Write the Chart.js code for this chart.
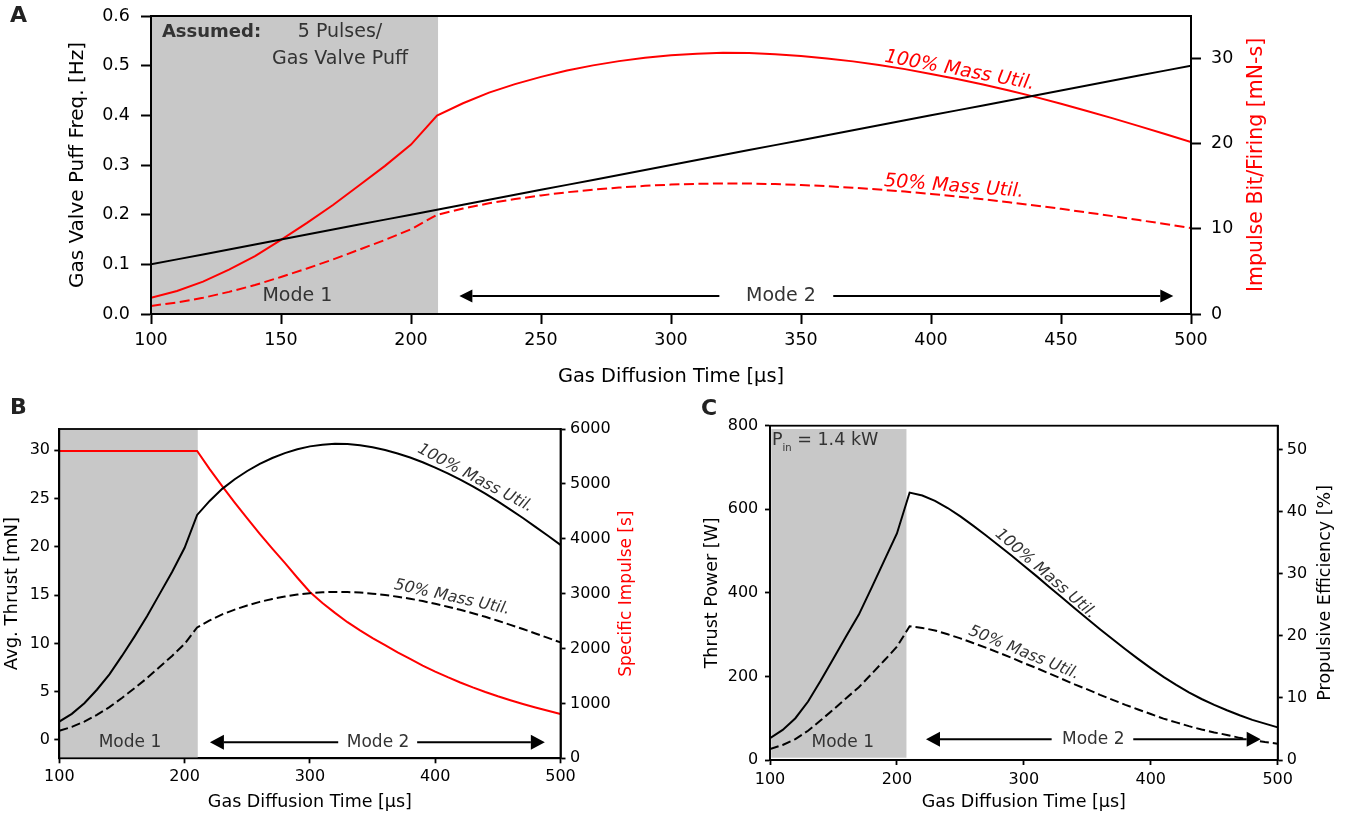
<!DOCTYPE html>
<html>
<head>
<meta charset="utf-8">
<script src="https://cdn.jsdelivr.net/npm/chart.js@4.4.1/dist/chart.umd.min.js"></script>
<style>
  body { margin: 0; background: #fff; }
  #page { position: relative; width: 1361px; height: 821px; overflow: hidden; background: #fff; }
  canvas { position: absolute; }
  .panel { position: absolute; font: bold 22px "DejaVu Sans"; line-height: 22px; color: #222; }
</style>
</head>
<body>
<div id="page">
  <canvas id="chartA" width="1361" height="390" style="left:0;top:0"></canvas>
  <canvas id="chartB" width="680" height="426" style="left:0;top:395px"></canvas>
  <canvas id="chartC" width="681" height="426" style="left:680px;top:395px"></canvas>
  <div class="panel" style="left:10px;top:4px">A</div>
  <div class="panel" style="left:10px;top:396px">B</div>
  <div class="panel" style="left:701px;top:397px">C</div>
</div>
<script>
// tempo de difusão do gás [µs] - eixo x comum
var diffTime = [100, 110, 120, 130, 140, 150, 160, 170, 180, 190, 200, 210, 220, 230, 240, 250, 260, 270, 280, 290, 300,
                310, 320, 330, 340, 350, 360, 370, 380, 390, 400, 410, 420, 430, 440, 450, 460, 470, 480, 490, 500];

// painel A
var puffFreq = [0.10, 0.11, 0.12, 0.13, 0.14, 0.15, 0.16, 0.17, 0.18, 0.19, 0.20, 0.21, 0.22, 0.23, 0.24, 0.25, 0.26, 0.27, 0.28, 0.29, 0.30,
                0.31, 0.32, 0.33, 0.34, 0.35, 0.36, 0.37, 0.38, 0.39, 0.40, 0.41, 0.42, 0.43, 0.44, 0.45, 0.46, 0.47, 0.48, 0.49, 0.50];
var impulse100 = [1.9, 2.7, 3.8, 5.2, 6.8, 8.7, 10.7, 12.8, 15.1, 17.4, 19.9, 23.3, 24.75, 26.0, 27.0, 27.85, 28.6, 29.2, 29.7, 30.1, 30.4,
                  30.58, 30.67, 30.65, 30.52, 30.3, 30.02, 29.67, 29.25, 28.76, 28.2, 27.6, 26.95, 26.25, 25.5, 24.7, 23.85, 22.98, 22.07, 21.14, 20.2];
var impulse50 = [0.95, 1.35, 1.9, 2.6, 3.4, 4.35, 5.35, 6.4, 7.55, 8.7, 9.95, 11.65, 12.38, 13.0, 13.5, 13.93, 14.3, 14.6, 14.85, 15.05, 15.2,
                 15.29, 15.33, 15.32, 15.26, 15.15, 15.01, 14.83, 14.62, 14.38, 14.1, 13.8, 13.48, 13.12, 12.75, 12.35, 11.92, 11.49, 11.03, 10.57, 10.1];

// painel B
var thrust100 = [1.9, 2.7, 3.8, 5.2, 6.8, 8.7, 10.7, 12.8, 15.1, 17.4, 19.9, 23.3, 24.75, 26.0, 27.0, 27.85, 28.6, 29.2, 29.7, 30.1, 30.4,
                 30.58, 30.67, 30.65, 30.52, 30.3, 30.02, 29.67, 29.25, 28.76, 28.2, 27.6, 26.95, 26.25, 25.5, 24.7, 23.85, 22.98, 22.07, 21.14, 20.2];
var thrust50 = [0.95, 1.35, 1.9, 2.6, 3.4, 4.35, 5.35, 6.4, 7.55, 8.7, 9.95, 11.65, 12.38, 13.0, 13.5, 13.93, 14.3, 14.6, 14.85, 15.05, 15.2,
                15.29, 15.33, 15.32, 15.26, 15.15, 15.01, 14.83, 14.62, 14.38, 14.1, 13.8, 13.48, 13.12, 12.75, 12.35, 11.92, 11.49, 11.03, 10.57, 10.1];
var specImpulse = [5600, 5600, 5600, 5600, 5600, 5600, 5600, 5600, 5600, 5600, 5600, 5600, 5270, 4960, 4660, 4370, 4090, 3820, 3560, 3290, 3030,
                   2830, 2650, 2480, 2330, 2190, 2060, 1930, 1810, 1690, 1580, 1478, 1382, 1292, 1208, 1130, 1058, 990, 926, 866, 806];

// painel C
var power100 = [52, 72, 100, 140, 190, 243, 296, 348, 412, 477, 542, 640, 633, 620, 603, 583, 561, 538, 514, 490, 465,
                440, 414, 389, 363, 338, 313, 289, 265, 242, 220, 199, 180, 162, 146, 132, 119, 107, 96, 87, 78];
var power50 = [26, 36, 50, 70, 95, 121, 148, 174, 206, 238, 271, 320, 316, 310, 301, 291, 280, 269, 257, 245, 232,
               220, 207, 194, 181, 169, 156, 144, 132, 121, 110, 99, 90, 81, 73, 66, 60, 53, 48, 43, 39];

// marcas dos eixos
var ticksAx = [100, 150, 200, 250, 300, 350, 400, 450, 500];
var ticksAy = [0, 0.1, 0.2, 0.3, 0.4, 0.5, 0.6];
var ticksAy1 = [0, 10, 20, 30];
var ticksBCx = [100, 200, 300, 400, 500];
var ticksBy = [0, 5, 10, 15, 20, 25, 30];
var ticksBy1 = [0, 1000, 2000, 3000, 4000, 5000, 6000];
var ticksCy = [0, 200, 400, 600, 800];
var ticksCy1 = [0, 10, 20, 30, 40, 50];

Chart.defaults.font.family = '"DejaVu Sans"';
Chart.defaults.color = '#000';

function pts(ys) {
    return diffTime.map(function (t, i) { return { x: t, y: ys[i] }; });
}

function line(values, color, axisId, dash) {
    return {
        data: pts(values),
        borderColor: color,
        borderWidth: 2,
        borderDash: dash || [],
        yAxisID: axisId,
        pointRadius: 0,
        tension: 0,
        fill: false
    };
}

function scaleCfg(o) {
    return {
        type: 'linear',
        position: o.pos,
        min: o.min,
        max: o.max,
        afterBuildTicks: function (s) { s.ticks = o.ticks.map(function (v) { return { value: v }; }); },
        afterFit: function (s) {
            if (o.pos === 'bottom') s.height = o.size; else s.width = o.size;
            s.paddingTop = 0; s.paddingBottom = 0; s.paddingLeft = 0; s.paddingRight = 0;
        },
        grid: { display: true, drawOnChartArea: false, drawTicks: true, tickLength: o.tick, tickWidth: o.lw, tickColor: '#000', color: '#000' },
        border: { display: true, color: '#000', width: o.lw },
        ticks: {
            color: '#000', padding: o.pad, font: { size: o.font }, autoSkip: false, maxRotation: 0,
            callback: function (v) { return o.dec ? v.toFixed(o.dec) : String(v); }
        },
        title: o.title ? { display: true, text: o.title, color: '#000', padding: 0, font: { size: o.titleFont } } : { display: false }
    };
}

function fontStr(t) {
    return (t.italic ? 'italic ' : '') + (t.bold ? 'bold ' : '') + t.size + 'px "DejaVu Sans"';
}

// anotações: sombra do modo 1, textos, seta do modo 2, moldura e título do eixo direito
function notesPlugin(cfg) {
    return {
        id: 'notes',
        beforeDatasetsDraw: function (chart) {
            var ctx = chart.ctx, x = chart.scales.x, y = chart.scales.y, s = cfg.shade;
            var y0 = s.y0 === undefined ? y.min : s.y0;
            var y1 = s.y1 === undefined ? y.max : s.y1;
            var px0 = x.getPixelForValue(s.x0), px1 = x.getPixelForValue(s.x1);
            var py0 = y.getPixelForValue(y0), py1 = y.getPixelForValue(y1);
            ctx.save();
            ctx.fillStyle = '#c8c8c8';
            ctx.fillRect(px0, py1, px1 - px0, py0 - py1);
            ctx.restore();
        },
        afterDatasetsDraw: function (chart) {
            var ctx = chart.ctx, x = chart.scales.x, y = chart.scales.y, a = chart.chartArea;
            ctx.save();
            // moldura
            ctx.strokeStyle = '#000';
            ctx.lineWidth = cfg.frame;
            ctx.strokeRect(a.left, a.top, a.right - a.left, a.bottom - a.top);

            // textos
            cfg.texts.forEach(function (t) {
                var px = x.getPixelForValue(t.x), py = y.getPixelForValue(t.y);
                ctx.save();
                ctx.translate(px, py);
                ctx.rotate((t.angle || 0) * Math.PI / 180);
                ctx.fillStyle = t.color || '#333';
                ctx.textBaseline = 'middle';
                if (t.parts) {
                    ctx.textAlign = 'left';
                    var cx = 0;
                    t.parts.forEach(function (p) {
                        ctx.font = fontStr(p);
                        ctx.fillText(p.text, cx, p.dy || 0);
                        cx += ctx.measureText(p.text).width;
                    });
                } else {
                    ctx.font = fontStr(t);
                    ctx.textAlign = t.align || 'center';
                    ctx.fillText(t.text, 0, 0);
                }
                ctx.restore();
            });

            // seta do modo 2
            var r = cfg.arrow;
            var ay = y.getPixelForValue(r.y);
            var tl = x.getPixelForValue(r.tipL), gl = x.getPixelForValue(r.gapL);
            var gr = x.getPixelForValue(r.gapR), tr = x.getPixelForValue(r.tipR);
            ctx.strokeStyle = '#000';
            ctx.fillStyle = '#000';
            ctx.lineWidth = 2;
            ctx.beginPath();
            ctx.moveTo(tl + r.head, ay); ctx.lineTo(gl, ay);
            ctx.moveTo(gr, ay); ctx.lineTo(tr - r.head, ay);
            ctx.stroke();
            ctx.beginPath();
            ctx.moveTo(tl, ay); ctx.lineTo(tl + r.head, ay - r.half); ctx.lineTo(tl + r.head, ay + r.half); ctx.closePath();
            ctx.moveTo(tr, ay); ctx.lineTo(tr - r.head, ay - r.half); ctx.lineTo(tr - r.head, ay + r.half); ctx.closePath();
            ctx.fill();

            // título do eixo direito (lido de baixo para cima)
            var rt = cfg.rightTitle;
            ctx.translate(a.right + rt.offset, (a.top + a.bottom) / 2);
            ctx.rotate(-Math.PI / 2);
            ctx.font = rt.size + 'px "DejaVu Sans"';
            ctx.fillStyle = rt.color;
            ctx.textAlign = 'center';
            ctx.textBaseline = 'middle';
            ctx.fillText(rt.text, 0, 0);
            ctx.restore();
        }
    };
}

var baseOptions = function (padding, scales) {
    return {
        responsive: false,
        animation: false,
        layout: { padding: padding },
        plugins: { legend: { display: false }, tooltip: { enabled: false } },
        scales: scales
    };
};

// Painel A - frequência do puff e impulse bit
var ctxA = document.getElementById('chartA').getContext('2d');
var chartA = new Chart(ctxA, {
    type: 'line',
    data: {
        datasets: [
            line(puffFreq, '#000', 'y'),
            line(impulse100, '#ff0000', 'y1'),
            line(impulse50, '#ff0000', 'y1', [10, 4.5])
        ]
    },
    options: baseOptions({ top: 16, left: 66, right: 0, bottom: 1.6 }, {
        x: scaleCfg({ pos: 'bottom', min: 100, max: 500, ticks: ticksAx, size: 74.4, tick: 10, lw: 2, pad: 5.5, font: 17.5,
                      title: 'Gas Diffusion Time [\u03bcs]', titleFont: 19.4 }),
        y: scaleCfg({ pos: 'left', min: 0, max: 0.6, ticks: ticksAy, dec: 1, size: 85, tick: 10, lw: 2, pad: 11, font: 17.5,
                      title: 'Gas Valve Puff Freq. [Hz]', titleFont: 20 }),
        y1: scaleCfg({ pos: 'right', min: 0, max: 35, ticks: ticksAy1, size: 170, tick: 10, lw: 2, pad: 10, font: 17.5 })
    }),
    plugins: [notesPlugin({
        frame: 2,
        shade: { x0: 100, x1: 210.4 },
        texts: [
            { text: 'Assumed:', x: 104.2, y: 0.5678, size: 18, bold: true, align: 'left' },
            { text: '5 Pulses/', x: 172.7, y: 0.5678, size: 19 },
            { text: 'Gas Valve Puff', x: 172.7, y: 0.5134, size: 19 },
            { text: 'Mode 1', x: 156.3, y: 0.036, size: 19 },
            { text: 'Mode 2', x: 342.3, y: 0.0362, size: 19 },
            { text: '100% Mass Util.', x: 411, y: 0.49, size: 19, italic: true, angle: 10.5, color: '#ff0000' },
            { text: '50% Mass Util.', x: 408.8, y: 0.2567, size: 19, italic: true, angle: 4.5, color: '#ff0000' }
        ],
        arrow: { y: 0.0362, tipL: 218.6, gapL: 318.6, gapR: 362.4, tipR: 493.2, head: 13, half: 6.5 },
        rightTitle: { text: 'Impulse Bit/Firing [mN-s]', offset: 65.7, size: 20.5, color: '#ff0000' }
    })]
});

// Painel B - empuxo médio e impulso específico
var ctxB = document.getElementById('chartB').getContext('2d');
var chartB = new Chart(ctxB, {
    type: 'line',
    data: {
        datasets: [
            line(thrust100, '#000', 'y'),
            line(thrust50, '#000', 'y', [9, 4]),
            line(specImpulse, '#ff0000', 'y1')
        ]
    },
    options: baseOptions({ top: 34, left: 2, right: 0, bottom: 8 }, {
        x: scaleCfg({ pos: 'bottom', min: 100, max: 500, ticks: ticksBCx, size: 54.7, tick: 5, lw: 1.8, pad: 3.8, font: 16,
                      title: 'Gas Diffusion Time [\u03bcs]', titleFont: 17.5 }),
        y: scaleCfg({ pos: 'left', min: -1.9, max: 32.2, ticks: ticksBy, size: 57.3, tick: 5, lw: 1.8, pad: 4.3, font: 16,
                      title: 'Avg. Thrust [mN]', titleFont: 18 }),
        y1: scaleCfg({ pos: 'right', min: 0, max: 6000, ticks: ticksBy1, size: 119.5, tick: 5, lw: 1.8, pad: 4.5, font: 16 })
    }),
    plugins: [notesPlugin({
        frame: 1.8,
        shade: { x0: 100, x1: 210.5 },
        texts: [
            { text: 'Mode 1', x: 156.4, y: -0.24, size: 17 },
            { text: 'Mode 2', x: 354.4, y: -0.24, size: 17 },
            { text: '100% Mass Util.', x: 431.9, y: 27.1, size: 16, italic: true, angle: 28 },
            { text: '50% Mass Util.', x: 413.4, y: 14.76, size: 16, italic: true, angle: 12.4 }
        ],
        arrow: { y: -0.24, tipL: 220.2, gapL: 322.6, gapR: 385.6, tipR: 487.5, head: 14, half: 7.5 },
        rightTitle: { text: 'Specific Impulse [s]', offset: 66.2, size: 17, color: '#ff0000' }
    })]
});

// Painel C - potência de empuxo e eficiência propulsiva
var ctxC = document.getElementById('chartC').getContext('2d');
var chartC = new Chart(ctxC, {
    type: 'line',
    data: {
        datasets: [
            line(power100, '#000', 'y'),
            line(power50, '#000', 'y', [9, 4])
        ]
    },
    options: baseOptions({ top: 30.7, left: 22, right: 0, bottom: 8 }, {
        x: scaleCfg({ pos: 'bottom', min: 100, max: 500, ticks: ticksBCx, size: 53, tick: 5, lw: 1.8, pad: 5.4, font: 16,
                      title: 'Gas Diffusion Time [\u03bcs]', titleFont: 17.5 }),
        y: scaleCfg({ pos: 'left', min: 0, max: 800, ticks: ticksCy, size: 68, tick: 5, lw: 1.8, pad: 6.7, font: 16,
                      title: 'Thrust Power [W]', titleFont: 17.5 }),
        y1: scaleCfg({ pos: 'right', min: 0, max: 53.9, ticks: ticksCy1, size: 83.3, tick: 5, lw: 1.8, pad: 4, font: 16 })
    }),
    plugins: [notesPlugin({
        frame: 1.8,
        shade: { x0: 101, x1: 207.5, y0: 5.5, y1: 792 },
        texts: [
            { x: 101.6, y: 765.7, parts: [
                { text: 'P', size: 17.5 },
                { text: 'in', size: 10, dy: 8 },
                { text: ' = 1.4 kW', size: 17.5 }
            ] },
            { text: 'Mode 1', x: 157.3, y: 42.4, size: 17 },
            { text: 'Mode 2', x: 354.7, y: 49.5, size: 17 },
            { text: '100% Mass Util.', x: 317.1, y: 445.6, size: 16, italic: true, angle: 41 },
            { text: '50% Mass Util.', x: 300.1, y: 256.5, size: 16, italic: true, angle: 22.4 }
        ],
        arrow: { y: 49.5, tipL: 222.9, gapL: 321.9, gapR: 386.2, tipR: 486.6, head: 14, half: 7.5 },
        rightTitle: { text: 'Propulsive Efficiency [%]', offset: 47.3, size: 17.5, color: '#000' }
    })]
});
</script>
</body>
</html>
